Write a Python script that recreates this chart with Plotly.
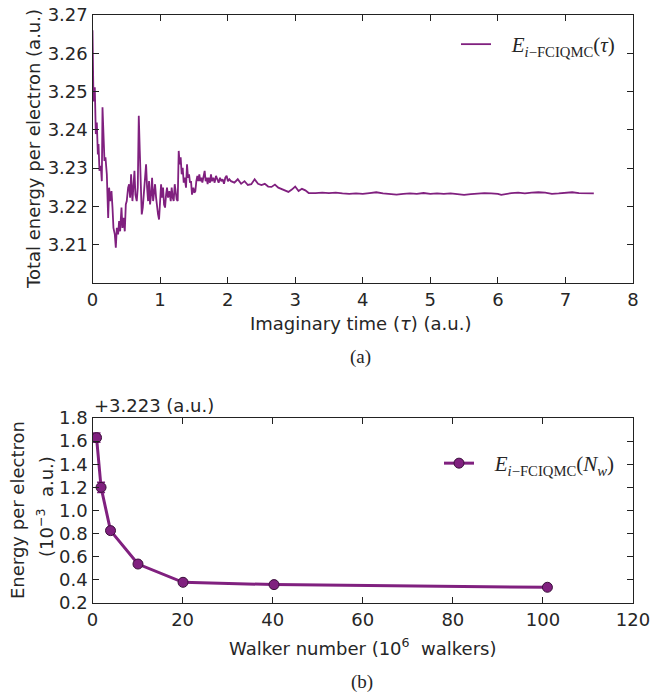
import plotly.graph_objects as go

# ---------- data (a): imaginary-time trace ----------
tau = [0.000, 0.015, 0.034, 0.049, 0.064, 0.079, 0.089, 0.103, 0.123, 0.138,
       0.148, 0.163, 0.177, 0.192, 0.212, 0.232, 0.246, 0.261, 0.281, 0.296,
       0.310, 0.330, 0.345, 0.360, 0.379, 0.394, 0.409, 0.429, 0.443, 0.458,
       0.478, 0.493, 0.507, 0.527, 0.542, 0.557, 0.571, 0.591, 0.606, 0.621,
       0.635, 0.655, 0.670, 0.685, 0.700, 0.714, 0.729, 0.744, 0.759, 0.778,
       0.793, 0.808, 0.823, 0.837, 0.852, 0.867, 0.882, 0.897, 0.911, 0.926,
       0.941, 0.956, 0.970, 0.985, 1.000, 1.015, 1.030, 1.044, 1.059, 1.074,
       1.089, 1.103, 1.118, 1.138, 1.158, 1.172, 1.187, 1.202, 1.217, 1.232,
       1.246, 1.261, 1.276, 1.291, 1.305, 1.320, 1.335, 1.350, 1.365, 1.384,
       1.399, 1.414, 1.429, 1.443, 1.458, 1.473, 1.493, 1.507, 1.522, 1.537,
       1.552, 1.567, 1.581, 1.596, 1.611, 1.626, 1.640, 1.660, 1.675, 1.690,
       1.704, 1.719, 1.739, 1.754, 1.768, 1.788, 1.808, 1.828, 1.847, 1.867,
       1.887, 1.906, 1.926, 1.946, 1.966, 1.985, 2.005, 2.025,
       2.05, 2.10, 2.15, 2.20, 2.25, 2.30, 2.35, 2.40, 2.45, 2.50,
       2.55, 2.60, 2.65, 2.70, 2.75, 2.80, 2.85, 2.90, 2.95, 3.00,
       3.05, 3.10, 3.15, 3.20,
       3.3, 3.4, 3.5, 3.6, 3.7, 3.8, 3.9, 4.0, 4.1, 4.2,
       4.3, 4.4, 4.5, 4.6, 4.7, 4.8, 4.9, 5.0, 5.1, 5.2,
       5.3, 5.4, 5.5, 5.6, 5.7, 5.8, 5.9, 6.0, 6.05, 6.1,
       6.2, 6.3, 6.4, 6.5, 6.6, 6.7, 6.8, 6.9, 7.0, 7.1,
       7.2, 7.3, 7.42]

energy = [3.2660, 3.2474, 3.2511, 3.2389, 3.2419, 3.2336, 3.2363, 3.2293, 3.2306, 3.2266,
          3.2459, 3.2380, 3.2319, 3.2328, 3.2284, 3.2170, 3.2249, 3.2214, 3.2240, 3.2197,
          3.2144, 3.2127, 3.2092, 3.2144, 3.2127, 3.2162, 3.2135, 3.2197, 3.2144, 3.2170,
          3.2135, 3.2205, 3.2214, 3.2249, 3.2258, 3.2223, 3.2284, 3.2214, 3.2266, 3.2293,
          3.2231, 3.2214, 3.2249, 3.2437, 3.2345, 3.2249, 3.2179, 3.2197, 3.2231, 3.2275,
          3.2310, 3.2249, 3.2214, 3.2266, 3.2205, 3.2231, 3.2275, 3.2214, 3.2231, 3.2258,
          3.2223, 3.2197, 3.2179, 3.2166, 3.2214, 3.2258, 3.2223, 3.2249, 3.2205, 3.2197,
          3.2231, 3.2249, 3.2223, 3.2240, 3.2214, 3.2249, 3.2223, 3.2214, 3.2258, 3.2231,
          3.2218, 3.2214, 3.2345, 3.2310, 3.2328, 3.2284, 3.2301, 3.2262, 3.2275, 3.2249,
          3.2310, 3.2275, 3.2284, 3.2262, 3.2266, 3.2231, 3.2249, 3.2236, 3.2240, 3.2266,
          3.2280, 3.2266, 3.2284, 3.2266, 3.2275, 3.2262, 3.2280, 3.2293, 3.2266, 3.2275,
          3.2258, 3.2275, 3.2262, 3.2284, 3.2266, 3.2275, 3.2262, 3.2280, 3.2271, 3.2262,
          3.2275, 3.2266, 3.2271, 3.2259, 3.2275, 3.2280, 3.2266, 3.2271,
          3.2266, 3.2262, 3.2271, 3.2259, 3.2266, 3.2256, 3.2258, 3.2271, 3.2259, 3.2256,
          3.2259, 3.2252, 3.2251, 3.2257, 3.2249, 3.2246, 3.2242, 3.2238, 3.2244, 3.2252,
          3.2240, 3.2246, 3.2242, 3.2235,
          3.2235, 3.2236, 3.2235, 3.2236, 3.2234, 3.2233, 3.2234, 3.2233, 3.2235, 3.2237,
          3.2234, 3.2232, 3.2231, 3.2233, 3.2234, 3.2233, 3.2235, 3.2233, 3.2234, 3.2233,
          3.2234, 3.2232, 3.2230, 3.2232, 3.2234, 3.2235, 3.2234, 3.2233, 3.2230, 3.2232,
          3.2235, 3.2236, 3.2234, 3.2236, 3.2237, 3.2236, 3.2233, 3.2234, 3.2235, 3.2237,
          3.2235, 3.2235, 3.2234]

# ---------- data (b): walker-number convergence ----------
walkers = [0.9, 1.9, 4.0, 10.1, 20.1, 40.3, 101.0]          # 10^6 walkers
energy_b = [1.630, 1.200, 0.826, 0.537, 0.379, 0.359, 0.336]  # 10^-3 a.u. above 3.223
err_b = [0.040, 0.045, 0.020, 0.020, 0.012, 0.010, 0.010]

x_ticks_a = [0, 1, 2, 3, 4, 5, 6, 7, 8]
y_ticks_a = [3.21, 3.22, 3.23, 3.24, 3.25, 3.26, 3.27]
x_ticks_b = [0, 20, 40, 60, 80, 100, 120]
y_ticks_b = [0.2, 0.4, 0.6, 0.8, 1.0, 1.2, 1.4, 1.6, 1.8]

PURPLE = "#80207f"
TXT = "#262626"
SANS = "DejaVu Sans"
SERIF = "Liberation Serif"
W, H = 653, 700
GAP = "&nbsp;&nbsp;&nbsp;"

fig = go.Figure()

fig.add_trace(go.Scatter(
    x=tau, y=energy, mode="lines",
    line=dict(color=PURPLE, width=1.8),
    name=GAP + "<i>E</i><sub><i>i</i>−FCIQMC</sub>(<i>τ</i>)",
    xaxis="x", yaxis="y", legend="legend",
))

fig.add_trace(go.Scatter(
    x=walkers, y=energy_b, mode="lines+markers",
    line=dict(color=PURPLE, width=3),
    marker=dict(size=10, color=PURPLE, line=dict(color="#3b103b", width=1)),
    error_y=dict(type="data", array=err_b, color=PURPLE, thickness=1.5, width=4),
    name=GAP + "<i>E</i><sub><i>i</i>−FCIQMC</sub>(<i>N</i><sub><i>w</i></sub>)",
    xaxis="x2", yaxis="y2", legend="legend2",
))

def px_x(p):
    return p / W

def px_y(p):
    return 1 - p / H

axis_common = dict(
    showgrid=False, zeroline=False, showline=True, linecolor="#222222", linewidth=1.3,
    mirror="allticks", ticks="inside", ticklen=6, tickwidth=1, tickcolor="#222222",
    tickfont=dict(family=SANS, size=18, color=TXT),
)

fig.update_layout(
    width=W, height=H,
    margin=dict(l=0, r=0, t=0, b=0, autoexpand=False),
    paper_bgcolor="white", plot_bgcolor="white",
    showlegend=True,
    xaxis=dict(domain=[px_x(92.5), px_x(633)], range=[0, 8], tickvals=x_ticks_a,
               anchor="y", **axis_common),
    yaxis=dict(domain=[px_y(283), px_y(15)], range=[3.20, 3.27], tickvals=y_ticks_a,
               tickformat=".2f", anchor="x", **axis_common),
    xaxis2=dict(domain=[px_x(92.5), px_x(633)], range=[0, 120], tickvals=x_ticks_b,
                anchor="y2", **axis_common),
    yaxis2=dict(domain=[px_y(603), px_y(418)], range=[0.2, 1.8], tickvals=y_ticks_b,
                tickformat=".1f", anchor="x2", **axis_common),
    legend=dict(x=px_x(620), y=px_y(24), xanchor="right", yanchor="top",
                bgcolor="rgba(0,0,0,0)", borderwidth=0,
                font=dict(family=SERIF, size=21, color=TXT)),
    legend2=dict(x=px_x(620), y=px_y(443), xanchor="right", yanchor="top",
                 bgcolor="rgba(0,0,0,0)", borderwidth=0,
                 font=dict(family=SERIF, size=21, color=TXT)),
)

annotations = [
    dict(text="Total energy per electron (a.u.)", x=px_x(33), y=px_y(149),
         textangle=-90, font=dict(family=SANS, size=18, color=TXT)),
    dict(text="Imaginary time (<i>τ</i>) (a.u.)", x=px_x(360), y=px_y(323),
         font=dict(family=SANS, size=18, color=TXT)),
    dict(text="(a)", x=px_x(360), y=px_y(357),
         font=dict(family=SERIF, size=19, color=TXT)),
    dict(text="+3.223 (a.u.)", x=px_x(92), y=px_y(405), xanchor="left",
         font=dict(family=SANS, size=18, color=TXT)),
    dict(text="Energy per electron", x=px_x(17), y=px_y(510),
         textangle=-90, font=dict(family=SANS, size=18, color=TXT)),
    dict(text="(10<sup>−3</sup>  a.u.)", x=px_x(45), y=px_y(507),
         textangle=-90, font=dict(family=SANS, size=18, color=TXT)),
    dict(text="Walker number (10<sup>6</sup>  walkers)", x=px_x(362), y=px_y(647),
         font=dict(family=SANS, size=18, color=TXT)),
    dict(text="(b)", x=px_x(362), y=px_y(682),
         font=dict(family=SERIF, size=19, color=TXT)),
]
for a in annotations:
    a.update(xref="paper", yref="paper", showarrow=False, xanchor=a.get("xanchor", "center"),
             yanchor="middle")
fig.update_layout(annotations=annotations)

fig.write_html("out.html",
               config={"displayModeBar": False},
               post_script="document.body.style.margin='0px';document.body.style.overflow='hidden';")
